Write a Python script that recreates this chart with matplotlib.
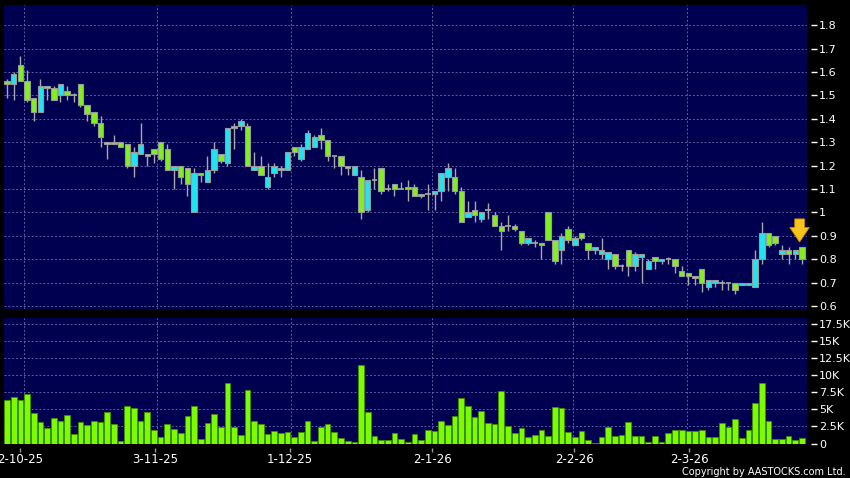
import matplotlib
matplotlib.use("Agg")
import matplotlib.pyplot as plt
import numpy as np

# ---------------- data ----------------
opens = [1.56, 1.55, 1.63, 1.56, 1.49, 1.43, 1.54, 1.53, 1.50, 1.52,
         1.50, 1.55, 1.46, 1.43, 1.38, 1.30, 1.29, 1.30, 1.29, 1.20,
         1.25, 1.25, 1.27, 1.30, 1.27, 1.18, 1.20, 1.19, 1.00, 1.17,
         1.13, 1.18, 1.25, 1.21, 1.36, 1.37, 1.37, 1.18, 1.20, 1.11,
         1.17, 1.19, 1.18, 1.28, 1.23, 1.27, 1.28, 1.33, 1.31, 1.24,
         1.24, 1.20, 1.16, 1.15, 1.01, 1.14, 1.19, 1.10, 1.12, 1.10,
         1.11, 1.11, 1.07, 1.08, 1.08, 1.09, 1.15, 1.15, 1.09, 0.98,
         1.01, 0.97, 1.01, 0.99, 0.94, 0.94, 0.94, 0.92, 0.87, 0.87,
         0.87, 1.00, 0.88, 0.84, 0.93, 0.86, 0.91, 0.87, 0.84, 0.82,
         0.80, 0.82, 0.77, 0.84, 0.77, 0.81, 0.76, 0.81, 0.79, 0.80,
         0.80, 0.75, 0.74, 0.73, 0.76, 0.68, 0.70, 0.70, 0.70, 0.70,
         0.69, 0.69, 0.68, 0.80, 0.91, 0.90, 0.82, 0.84, 0.82, 0.85]
highs = [1.57, 1.60, 1.67, 1.61, 1.49, 1.57, 1.54, 1.54, 1.55, 1.54,
         1.51, 1.55, 1.46, 1.43, 1.41, 1.30, 1.33, 1.30, 1.29, 1.28,
         1.38, 1.25, 1.27, 1.30, 1.29, 1.20, 1.20, 1.19, 1.19, 1.17,
         1.24, 1.30, 1.25, 1.36, 1.38, 1.40, 1.38, 1.26, 1.24, 1.21,
         1.21, 1.20, 1.26, 1.28, 1.29, 1.35, 1.33, 1.36, 1.31, 1.24,
         1.24, 1.20, 1.20, 1.18, 1.14, 1.19, 1.19, 1.12, 1.12, 1.13,
         1.14, 1.12, 1.08, 1.12, 1.09, 1.17, 1.21, 1.19, 1.11, 1.05,
         1.05, 1.00, 1.04, 1.00, 0.96, 0.99, 0.95, 0.92, 0.89, 0.88,
         0.87, 1.00, 0.88, 0.91, 0.94, 0.90, 0.91, 0.87, 0.85, 0.89,
         0.83, 0.82, 0.78, 0.84, 0.83, 0.82, 0.80, 0.81, 0.80, 0.81,
         0.80, 0.77, 0.74, 0.73, 0.76, 0.71, 0.71, 0.71, 0.70, 0.70,
         0.70, 0.70, 0.84, 0.96, 0.91, 0.90, 0.86, 0.85, 0.84, 0.85]
lows = [1.49, 1.48, 1.56, 1.47, 1.39, 1.43, 1.48, 1.48, 1.47, 1.48,
        1.47, 1.45, 1.39, 1.37, 1.28, 1.23, 1.29, 1.28, 1.19, 1.15,
        1.25, 1.20, 1.21, 1.22, 1.18, 1.10, 1.12, 1.07, 1.00, 1.13,
        1.13, 1.17, 1.21, 1.20, 1.27, 1.35, 1.20, 1.18, 1.16, 1.10,
        1.15, 1.15, 1.18, 1.24, 1.22, 1.27, 1.28, 1.27, 1.22, 1.19,
        1.16, 1.16, 1.16, 0.97, 1.00, 1.10, 1.08, 1.09, 1.07, 1.10,
        1.05, 1.07, 1.06, 1.01, 1.01, 1.05, 1.09, 1.08, 0.96, 0.98,
        0.96, 0.96, 0.97, 0.94, 0.84, 0.92, 0.92, 0.86, 0.86, 0.85,
        0.80, 0.88, 0.78, 0.78, 0.87, 0.86, 0.88, 0.80, 0.82, 0.80,
        0.76, 0.76, 0.75, 0.73, 0.75, 0.70, 0.76, 0.76, 0.78, 0.78,
        0.74, 0.73, 0.69, 0.69, 0.66, 0.67, 0.68, 0.67, 0.67, 0.65,
        0.69, 0.69, 0.68, 0.78, 0.85, 0.86, 0.80, 0.78, 0.80, 0.78]
closes = [1.55, 1.59, 1.56, 1.48, 1.43, 1.54, 1.53, 1.48, 1.55, 1.50,
          1.50, 1.46, 1.42, 1.38, 1.32, 1.29, 1.30, 1.28, 1.20, 1.26,
          1.29, 1.24, 1.25, 1.23, 1.18, 1.20, 1.15, 1.12, 1.17, 1.16,
          1.18, 1.27, 1.22, 1.36, 1.37, 1.39, 1.20, 1.20, 1.16, 1.15,
          1.20, 1.18, 1.26, 1.26, 1.28, 1.34, 1.32, 1.31, 1.24, 1.24,
          1.20, 1.19, 1.20, 1.00, 1.14, 1.14, 1.09, 1.10, 1.10, 1.10,
          1.10, 1.07, 1.08, 1.08, 1.09, 1.17, 1.19, 1.09, 0.96, 1.00,
          0.99, 1.00, 1.01, 0.94, 0.92, 0.94, 0.93, 0.87, 0.89, 0.87,
          0.86, 0.88, 0.79, 0.90, 0.88, 0.89, 0.89, 0.84, 0.85, 0.84,
          0.83, 0.77, 0.77, 0.77, 0.82, 0.82, 0.79, 0.79, 0.80, 0.80,
          0.77, 0.73, 0.73, 0.72, 0.70, 0.71, 0.71, 0.70, 0.70, 0.67,
          0.70, 0.70, 0.80, 0.91, 0.86, 0.87, 0.84, 0.82, 0.84, 0.80]
volume_k = [6.31, 6.75, 6.31, 7.19, 4.50, 3.13, 2.30, 3.72, 3.37, 4.11,
            1.42, 3.13, 2.64, 3.37, 3.08, 4.55, 2.84, 0.34, 5.48, 5.18,
            3.37, 4.60, 2.05, 0.88, 2.93, 2.10, 1.56, 4.01, 5.57, 0.64,
            2.98, 4.30, 2.35, 8.80, 2.44, 1.22, 7.78, 3.28, 2.93, 1.42,
            1.81, 1.52, 1.66, 0.88, 1.71, 3.33, 0.39, 2.49, 2.79, 1.66,
            0.78, 0.34, 0.20, 11.49, 4.65, 1.12, 0.49, 0.44, 1.56, 0.64,
            0.15, 1.32, 0.54, 1.91, 1.86, 3.28, 2.69, 4.01, 6.70, 5.43,
            3.91, 4.74, 2.98, 2.93, 7.63, 2.54, 1.52, 2.30, 0.98, 1.27,
            2.00, 1.12, 5.33, 5.18, 1.66, 0.98, 1.76, 0.49, 0.05, 0.93,
            2.49, 1.03, 1.22, 3.13, 1.03, 1.17, 0.15, 1.03, 0.20, 1.47,
            1.91, 1.91, 1.76, 1.76, 1.91, 0.88, 0.93, 3.03, 2.35, 3.57,
            0.83, 1.91, 5.97, 8.85, 3.28, 0.73, 0.68, 1.03, 0.44, 0.78]
date_labels = ["2-10-25", "3-11-25", "1-12-25", "2-1-26", "2-2-26", "2-3-26"]
date_index = [2, 22, 42, 63, 84, 101]
price_ticks = [0.6, 0.7, 0.8, 0.9, 1.0, 1.1, 1.2, 1.3, 1.4, 1.5, 1.6, 1.7, 1.8]
price_tick_labels = ["0.6", "0.7", "0.8", "0.9", "1", "1.1", "1.2", "1.3",
                     "1.4", "1.5", "1.6", "1.7", "1.8"]
vol_ticks = [0, 2.5, 5, 7.5, 10, 12.5, 15, 17.5]
vol_tick_labels = ["0", "2.5K", "5K", "7.5K", "10K", "12.5K", "15K", "17.5K"]

# ---------------- layout / style ----------------
label_shift = [-0.05, 0.16, 0.37, 0.67, 0.93, 1.14]   # where the reference draws the date labels
grid_shift = [0.54, 0.46, 0.56, 0.67, 0.69, 0.75]     # where it draws the date gridlines

BG = "black"
PANEL = "#000050"
UP = "#1ee6f0"
DOWN = "#80f01e"
EDGE = "#9a9a9a"
WICK = "#a8a8a8"
VOL = "#7cfc00"
VOL_EDGE = "#3f8f00"
GRID = "#5e5ea2"

o = np.array(opens); h = np.array(highs); l = np.array(lows); c = np.array(closes)
v = np.array(volume_k)
n = len(o)
x = np.arange(n)

W, H = 850, 478
fig = plt.figure(figsize=(W / 100, H / 100), dpi=100, facecolor=BG)
ax1 = fig.add_axes([4 / W, 1 - 309 / H, 803 / W, 304 / H], facecolor=PANEL)
ax2 = fig.add_axes([4 / W, 1 - 443.5 / H, 803 / W, 125.5 / H], facecolor=PANEL)

xlim = (-0.45, n - 0.24)
grid_x = [d + s for d, s in zip(date_index, grid_shift)]
label_x = [d + s for d, s in zip(date_index, label_shift)]

for ax in (ax1, ax2):
    ax.set_xlim(*xlim)
    for s in ax.spines.values():
        s.set_visible(False)
    ax.spines["right"].set_position(("outward", 3))
    ax.spines["bottom"].set_position(("outward", 3))
    ax.yaxis.tick_right()
    ax.tick_params(axis="y", colors="white", length=4, width=1, pad=1.5,
                   labelsize=8, direction="out")
    for gx in grid_x:
        ax.axvline(gx, color=GRID, lw=0.7, ls=(0, (2, 2)), zorder=0.5)

# price panel
ax1.set_ylim(0.587, 1.886)
ax1.set_yticks(price_ticks)
ax1.set_yticklabels(price_tick_labels)
ax1.set_xticks([])
for pt in price_ticks:
    ax1.axhline(pt, color=GRID, lw=0.7, ls=(0, (2, 2)), zorder=0.5)

ax1.vlines(x, l, h, color=WICK, lw=1.0, zorder=2)
up = c > o
down = c < o
flat = c == o
ax1.bar(x[up], (c - o)[up], bottom=o[up], width=0.82, color=UP,
        edgecolor=EDGE, linewidth=0.8, zorder=3)
ax1.bar(x[down], (o - c)[down], bottom=c[down], width=0.82, color=DOWN,
        edgecolor=EDGE, linewidth=0.8, zorder=3)
ax1.hlines(c[flat], x[flat] - 0.42, x[flat] + 0.42, color=WICK, lw=1.2, zorder=3)

# arrow marking the latest session
last = n - 1
ax1.annotate("", xy=(last - 0.35, h[last] + 0.023), xytext=(last - 0.35, h[last] + 0.122),
             arrowprops=dict(arrowstyle="simple,head_length=0.75,head_width=1.0,tail_width=0.5",
                             fc="#f7c41a", ec="#d08a00", lw=0.6,
                             shrinkA=0, shrinkB=0, mutation_scale=14),
             zorder=6)

# volume panel
ax2.set_ylim(0, 18.4)
ax2.set_yticks(vol_ticks)
ax2.set_yticklabels(vol_tick_labels)
for vt in vol_ticks[1:]:
    ax2.axhline(vt, color=GRID, lw=0.7, ls=(0, (2, 2)), zorder=0.5)
ax2.bar(x, v, width=0.85, color=VOL, edgecolor=VOL_EDGE, linewidth=0.6, zorder=3)
ax2.set_xticks(label_x)
ax2.set_xticklabels(date_labels)
ax2.tick_params(axis="x", colors="#9a9a9a", length=3, width=1, pad=1,
                labelsize=8.5, labelcolor="white")

fig.text(846 / W, 1 - 472 / H, "Copyright by AASTOCKS.com Ltd.", color="white",
         fontsize=7, ha="right", va="center")

fig.savefig("out.png", dpi=100, facecolor=BG)
